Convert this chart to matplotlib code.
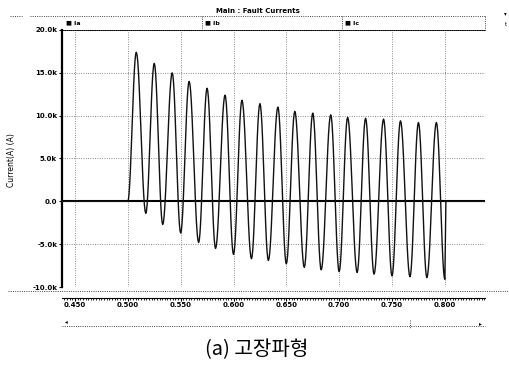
import numpy as np
import matplotlib
matplotlib.use("Agg")
import matplotlib.pyplot as plt
from matplotlib.lines import Line2D

plt.rcParams['font.family'] = ['DejaVu Sans']

# fault current peaks (A), read per half cycle
pos_t = [0.508, 0.525, 0.542, 0.558, 0.575, 0.592, 0.608, 0.625, 0.642,
         0.658, 0.675, 0.692, 0.708, 0.725, 0.742, 0.758, 0.775, 0.792]
pos_i = [17400, 16100, 15000, 14000, 13200, 12400, 11800, 11400, 11000,
         10500, 10300, 10100, 9800, 9700, 9600, 9400, 9200, 9200]
neg_t = [0.517, 0.533, 0.550, 0.567, 0.583, 0.600, 0.617, 0.633, 0.650,
         0.667, 0.683, 0.700, 0.717, 0.733, 0.750, 0.767, 0.783, 0.800]
neg_i = [-1400, -2700, -3700, -4800, -5500, -6200, -6700, -6900, -7300,
         -7700, -8000, -8200, -8300, -8500, -8700, -8800, -8900, -9100]
fault_start = 0.500

xticks = [0.45, 0.50, 0.55, 0.60, 0.65, 0.70, 0.75, 0.80]
xtick_labels = ["0.450", "0.500", "0.550", "0.600", "0.650", "0.700", "0.750", "0.800"]
yticks = [-10000, -5000, 0, 5000, 10000, 15000, 20000]
ytick_labels = ["-10.0k", "-5.0k", "0.0", "5.0k", "10.0k", "15.0k", "20.0k"]

W, H = 509, 365
fig = plt.figure(figsize=(W / 100, H / 100), dpi=100)
ax = fig.add_axes([62 / W, 1 - 287 / H, (485 - 62) / W, (287 - 30) / H])
x0, x1 = 0.4377, 0.838
ax.set_xlim(x0, x1)
ax.set_ylim(-10000, 20000)

# knots: zero before the fault, alternating peaks, chopped at the last trough
kt = [fault_start]
kv = [0.0]
for a, b, c, d in zip(pos_t, pos_i, neg_t, neg_i):
    kt += [a, c]
    kv += [b, d]

tt = [x0, fault_start]
vv = [0.0, 0.0]
s = np.linspace(0, 1, 14)[1:]
for k in range(len(kt) - 1):
    w = (1 - np.cos(np.pi * s)) / 2
    tt += list(kt[k] + (kt[k + 1] - kt[k]) * s)
    vv += list(kv[k] + (kv[k + 1] - kv[k]) * w)
tt += [kt[-1] + 0.001, x1]
vv += [0.0, 0.0]

ax.axhline(0, color='black', lw=1.5, zorder=3)
ax.plot(tt, vv, color='#111111', lw=1.0, zorder=4)

# grid and frame
for y in [5000, 10000, 15000, -5000]:
    ax.axhline(y, color='#666666', lw=0.6, ls=(0, (1, 1.8)), zorder=1)
for x in xticks:
    ax.axvline(x, color='#666666', lw=0.6, ls=(0, (1, 1.8)), zorder=1)
ax.spines['top'].set_linestyle((0, (1, 1.2)))
ax.spines['top'].set_linewidth(0.7)
ax.spines['right'].set_visible(False)
ax.spines['left'].set_linewidth(1.6)
ax.spines['bottom'].set_position(('outward', 8))
ax.spines['bottom'].set_linestyle((0, (1, 0.8)))
ax.spines['bottom'].set_linewidth(0.8)
ax.axhline(-10000, color='#333333', lw=0.7, ls=(0, (1, 1.2)), zorder=1)

ax.set_yticks(yticks)
ax.set_yticklabels(ytick_labels, fontsize=5, fontweight='bold')
ax.set_xticks(xticks)
ax.set_xticklabels(xtick_labels, fontsize=5, fontweight='bold')
ax.set_xticks(np.arange(0.44, 0.8376, 0.0025), minor=True)
ax.tick_params(axis='y', length=2, width=0.8, pad=1.5)
ax.tick_params(axis='x', which='major', length=2, width=0.8, pad=1)
ax.tick_params(axis='x', which='minor', length=1.5, width=0.6)
fig.text(12 / W, 1 - 160 / H, "Current(A) (A)", fontsize=5.5, rotation=90,
         ha='center', va='center')


def fx(px):
    return px / W


def fy(py):
    return 1 - py / H


def dotted(xs, ys, lw=0.7, color='#444444'):
    fig.add_artist(Line2D([fx(p) for p in xs], [fy(p) for p in ys], color=color,
                          lw=lw, ls=(0, (1, 1.3)), transform=fig.transFigure))


# header strip with title and trace labels
fig.text(fx(258), fy(11), "Main : Fault Currents", fontsize=5, ha='center',
         va='center', fontweight='bold')
dotted([10, 22], [16, 16])
dotted([30, 485], [16, 16])
dotted([485, 485], [16, 31])
dotted([202, 202], [16, 30])
dotted([342, 342], [16, 30])
for px, name in [(66, "Ia"), (205, "Ib"), (345, "Ic")]:
    fig.text(fx(px), fy(23), "\u25a0 " + name, fontsize=4.5, fontweight='bold',
             va='center', ha='left')
fig.text(fx(505), fy(14), "\u25be", fontsize=4, ha='center', va='center')
fig.text(fx(506), fy(24), "t", fontsize=4, ha='center', va='center')

# bottom rulers and scrollbar
dotted([8, 509], [291, 291])
dotted([62, 485], [326, 326])
dotted([410, 410], [320, 328])
fig.text(fx(66), fy(322), "\u25c2", fontsize=4, ha='center', va='center')
fig.text(fx(480), fy(324), "\u25b8", fontsize=4, ha='center', va='center')

fig.text(fx(257), fy(350), "(a) 고장파형", fontsize=14.5, ha='center', va='center',
         family=['Noto Sans CJK KR', 'DejaVu Sans'], fontweight='light')

fig.savefig("out.png", dpi=100)
